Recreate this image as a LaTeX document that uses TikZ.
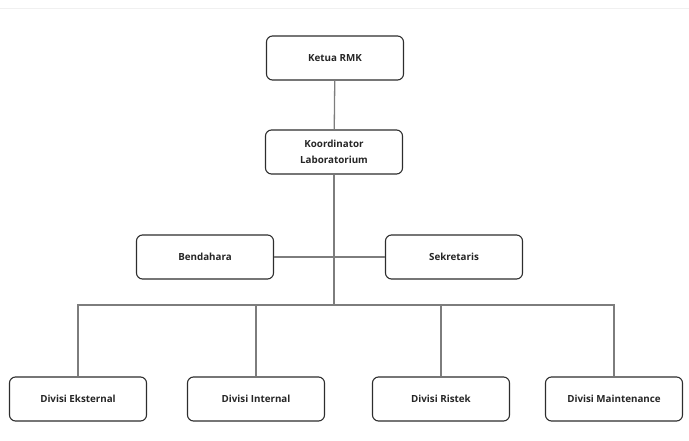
\documentclass[tikz,border=0pt]{standalone}
\usepackage{fontspec}
\setmainfont{Open Sans}
\usetikzlibrary{positioning}
\definecolor{boxline}{RGB}{45,45,45}
\definecolor{wire}{RGB}{125,125,125}
\tikzset{
  unit/.style={draw=boxline,line width=1.1pt,rounded corners=6pt,fill=white,
    minimum width=137pt,minimum height=44pt,align=center,
    font=\fontsize{9.8}{16.5}\selectfont\bfseries,text=black!85},
  wline/.style={wire,line width=1.3pt},
  every picture/.style={x=1pt,y=-1pt}
}
\begin{document}
\begin{tikzpicture}
    \useasboundingbox (0,0) rectangle (689,441);
    \draw[black!6,line width=0.8pt] (0,8) -- (689,8);
    % top of the chart
    \node[unit] (ketua) at (335,58) {Ketua RMK};
    \node[unit] (koord) at (334,152) {Koordinator\\Laboratorium};
    \node[unit] (bend) at (205,257) {Bendahara};
    \node[unit] (sekr) at (454,257) {Sekretaris};
    % divisions
    \node[unit] (eks) at (78,399) {Divisi Eksternal};
    \node[unit] (int) at (256,399) {Divisi Internal};
    \node[unit] (ris) at (441,399) {Divisi Ristek};
    \node[unit] (mnt) at (614,399) {Divisi Maintenance};
    \coordinate (bus) at (334,305);
    \draw[wline] (ketua) -- (koord);
    \draw[wline] (koord) -- (bus);
    \draw[wline] (bend) -- (sekr);
    \foreach \d in {eks,int,ris,mnt}
      \draw[wline] (bus) -| (\d.north);
\end{tikzpicture}
\end{document}
